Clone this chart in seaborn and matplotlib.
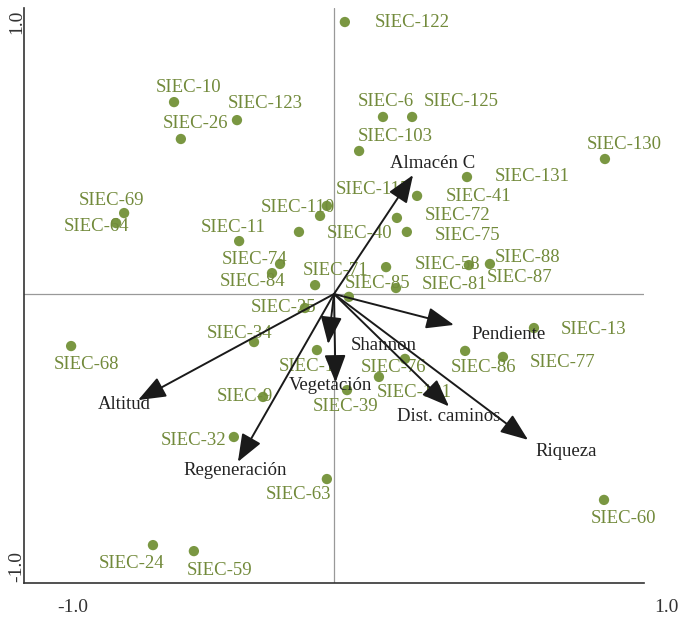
import numpy as np
import pandas as pd
import seaborn as sns
from matplotlib import pyplot as plt

# site scores (ordination axes 1 and 2)
sites = [
    "SIEC-10", "SIEC-123", "SIEC-26", "SIEC-69", "SIEC-64", "SIEC-11",
    "SIEC-110", "SIEC-115", "SIEC-40", "SIEC-74", "SIEC-84", "SIEC-71",
    "SIEC-122", "SIEC-6", "SIEC-125", "SIEC-103", "SIEC-130", "SIEC-131",
    "SIEC-41", "SIEC-72", "SIEC-75", "SIEC-58", "SIEC-88", "SIEC-87",
    "SIEC-81", "SIEC-85", "SIEC-25", "SIEC-34", "SIEC-17", "SIEC-9",
    "SIEC-68", "SIEC-39", "SIEC-121", "SIEC-76", "SIEC-86", "SIEC-77",
    "SIEC-13", "SIEC-32", "SIEC-63", "SIEC-60", "SIEC-24", "SIEC-59",
]
axis1 = [
    -0.516, -0.313, -0.494, -0.677, -0.703, -0.306,
    -0.023, -0.045, -0.113, -0.174, -0.200, -0.061,
    0.035, 0.158, 0.252, 0.081, 0.874, 0.429,
    0.268, 0.203, 0.235, 0.168, 0.435, 0.503,
    0.200, 0.048, -0.094, -0.258, -0.055, -0.229,
    -0.848, 0.042, 0.145, 0.229, 0.423, 0.545,
    0.645, -0.323, -0.023, 0.871, -0.584, -0.452,
]
axis2 = [
    0.671, 0.608, 0.542, 0.283, 0.248, 0.185,
    0.308, 0.273, 0.217, 0.105, 0.073, 0.031,
    0.951, 0.619, 0.619, 0.500, 0.472, 0.409,
    0.343, 0.266, 0.217, 0.094, 0.101, 0.105,
    0.021, -0.010, -0.049, -0.168, -0.196, -0.360,
    -0.182, -0.336, -0.290, -0.227, -0.199, -0.220,
    -0.119, -0.500, -0.647, -0.720, -0.878, -0.899,
]

# environmental variables (biplot arrows)
variables = [
    "Almacén C", "Pendiente", "Riqueza", "Dist. caminos",
    "Shannon", "Vegetación", "Altitud", "Regeneración",
]
var_axis1 = [0.255, 0.387, 0.626, 0.371, -0.019, 0.005, -0.632, -0.310]
var_axis2 = [0.416, -0.108, -0.510, -0.393, -0.175, -0.309, -0.371, -0.587]

# label placement (pixel offsets from the mark)
site_offsets = [
    (15, 15), (28, 17), (15, 15), (-13, 13), (-20, -3), (-6, 14),
    (-29, -2), (53, 26), (61, -2), (-25, 4), (-19, -8), (20, 15),
    (67, 0), (3, 15), (49, 15), (36, 14), (19, 15), (65, 1),
    (61, -1), (61, 2), (61, -4), (61, 3), (59, 8), (30, -14),
    (59, 3), (29, 13), (-21, 1), (-14, 9), (-5, -16), (-18, 0),
    (15, -18), (-1, -16), (35, -16), (-11, -9), (18, -17), (60, -6),
    (60, -1), (-40, -4), (-28, -15), (19, -19), (-21, -18), (26, -19),
]
var_offsets = [
    (20, 12), (55, -10), (38, -12), (0, -10),
    (56, -1), (-5, -3), (-14, -4), (-3, -9),
]

df = pd.DataFrame({"site": sites, "axis1": axis1, "axis2": axis2})

sns.set_style("white")
plt.rcParams["font.family"] = ["Liberation Serif", "DejaVu Serif"]

fig = plt.figure(figsize=(6.8, 6.17), dpi=100)
ax = fig.add_axes([24 / 680, 34 / 617, 620 / 680, 575 / 617])

point_color = "#7a9742"
label_color = "#728a3b"

ax.axhline(0, color="#999999", lw=0.9, zorder=1)
ax.axvline(0, color="#999999", lw=0.9, zorder=1)

sns.scatterplot(
    data=df, x="axis1", y="axis2", ax=ax,
    color=point_color, s=55, edgecolor="none", legend=False, zorder=3,
)

for name, x, y, off in zip(sites, axis1, axis2, site_offsets):
    ax.annotate(
        name, (x, y), xytext=off, textcoords="offset pixels",
        ha="center", va="center", fontsize=13.5, color=label_color, zorder=3,
    )

for name, x, y, off in zip(variables, var_axis1, var_axis2, var_offsets):
    ax.annotate(
        "", xy=(x, y), xytext=(0, 0),
        arrowprops=dict(
            arrowstyle="-|>,head_length=0.85,head_width=0.33",
            mutation_scale=20, color="#1a1a1a", lw=1.4,
            shrinkA=0, shrinkB=0,
        ),
        zorder=4,
    )
    ax.annotate(
        name, (x, y), xytext=off, textcoords="offset pixels",
        ha="center", va="center", fontsize=13.5, color="#222222", zorder=5,
    )

ax.set_xlim(-1.0, 1.0)
ax.set_ylim(-1.0105, 1.0)
ax.set_xticks([-0.5, 0, 0.5, 1.0])
ax.set_yticks([-0.5, 0, 0.5, 1.0])
ax.tick_params(axis="x", direction="in", length=8.6, width=1.0,
               colors="#222222", labelbottom=False)
ax.tick_params(axis="y", direction="in", length=8.6, width=1.2,
               colors="#888888", labelleft=False)
ax.set_xlabel("")
ax.set_ylabel("")
sns.despine(ax=ax)
for side in ["left", "bottom"]:
    ax.spines[side].set_color("#333333")
    ax.spines[side].set_linewidth(1.2)

# end labels of the axes
fig.text(73 / 680, 1 - 607 / 617, "-1.0", ha="center", va="center",
         fontsize=14, color="#333333")
fig.text(666 / 680, 1 - 607 / 617, "1.0", ha="center", va="center",
         fontsize=14, color="#333333")
fig.text(17 / 680, 1 - 22 / 617, "1.0", ha="center", va="center",
         fontsize=14, color="#333333", rotation=90)
fig.text(17 / 680, 1 - 566 / 617, "-1.0", ha="center", va="center",
         fontsize=14, color="#333333", rotation=90)

fig.savefig("out.png", dpi=100)
